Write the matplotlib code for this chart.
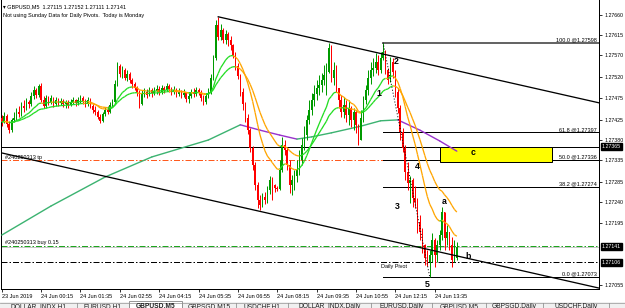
import numpy as np
import pandas as pd
import matplotlib
matplotlib.use("Agg")
import matplotlib.pyplot as plt
from matplotlib.collections import LineCollection
from matplotlib.patches import Rectangle
from matplotlib.transforms import blended_transform_factory

plt.rcParams['font.family'] = ['Liberation Sans', 'DejaVu Sans']

# ---------------- data ----------------
open_first = 1.27429
close = [
1.27420,1.27434,1.27416,1.27402,1.27425,1.27429,1.27443,1.27438,1.27456,1.27452,
1.27465,1.27461,1.27479,1.27492,1.27481,1.27501,1.27470,1.27456,1.27474,1.27465,
1.27474,1.27461,1.27470,1.27463,1.27467,1.27461,1.27465,1.27458,1.27465,1.27470,
1.27463,1.27470,1.27474,1.27467,1.27461,1.27470,1.27456,1.27447,1.27443,1.27432,
1.27423,1.27438,1.27447,1.27443,1.27458,1.27465,1.27505,1.27546,1.27528,1.27537,
1.27519,1.27528,1.27514,1.27505,1.27496,1.27488,1.27461,1.27483,1.27488,1.27481,
1.27492,1.27485,1.27490,1.27494,1.27488,1.27496,1.27492,1.27501,1.27494,1.27488,
1.27492,1.27483,1.27488,1.27481,1.27485,1.27472,1.27479,1.27488,1.27483,1.27492,
1.27488,1.27474,1.27465,1.27479,1.27488,1.27519,1.27564,1.27638,1.27611,1.27626,
1.27604,1.27617,1.27604,1.27593,1.27570,1.27546,1.27523,1.27488,1.27461,1.27429,
1.27402,1.27362,1.27324,1.27279,1.27246,1.27234,1.27252,1.27246,1.27268,1.27290,
1.27279,1.27272,1.27270,1.27313,1.27369,1.27358,1.27324,1.27279,1.27290,1.27299,
1.27313,1.27335,1.27369,1.27391,1.27425,1.27447,1.27470,1.27483,1.27496,1.27503,
1.27514,1.27526,1.27532,1.27586,1.27519,1.27537,1.27496,1.27470,1.27443,1.27458,
1.27436,1.27452,1.27425,1.27443,1.27414,1.27380,1.27429,1.27470,1.27492,1.27519,
1.27537,1.27541,1.27555,1.27537,1.27564,1.27577,1.27537,1.27514,1.27555,1.27532,
1.27488,1.27452,1.27398,1.27362,1.27308,1.27284,1.27290,1.27250,1.27241,1.27196,
1.27174,1.27145,1.27116,1.27107,1.27122,1.27156,1.27122,1.27145,1.27167,1.27219,
1.27160,1.27174,1.27145,1.27111,1.27115,1.27141]
high = [
1.27436,1.27443,1.27438,1.27423,1.27429,1.27443,1.27452,1.27456,1.27465,1.27470,
1.27474,1.27470,1.27488,1.27501,1.27496,1.27505,1.27508,1.27479,1.27481,1.27479,
1.27481,1.27476,1.27476,1.27474,1.27474,1.27472,1.27470,1.27470,1.27472,1.27476,
1.27472,1.27476,1.27481,1.27479,1.27472,1.27476,1.27474,1.27461,1.27456,1.27447,
1.27438,1.27443,1.27454,1.27456,1.27465,1.27472,1.27514,1.27555,1.27550,1.27546,
1.27541,1.27537,1.27532,1.27519,1.27510,1.27501,1.27492,1.27492,1.27496,1.27494,
1.27499,1.27496,1.27499,1.27503,1.27501,1.27503,1.27501,1.27508,1.27505,1.27499,
1.27501,1.27496,1.27496,1.27492,1.27494,1.27488,1.27485,1.27494,1.27496,1.27499,
1.27496,1.27492,1.27481,1.27485,1.27496,1.27528,1.27570,1.27649,1.27656,1.27640,
1.27631,1.27626,1.27622,1.27613,1.27595,1.27577,1.27552,1.27528,1.27496,1.27465,
1.27438,1.27407,1.27367,1.27331,1.27286,1.27257,1.27261,1.27264,1.27277,1.27299,
1.27297,1.27281,1.27277,1.27335,1.27387,1.27380,1.27364,1.27335,1.27302,1.27313,
1.27335,1.27358,1.27384,1.27411,1.27436,1.27470,1.27485,1.27503,1.27514,1.27526,
1.27530,1.27548,1.27552,1.27597,1.27593,1.27555,1.27548,1.27496,1.27481,1.27476,
1.27470,1.27470,1.27456,1.27452,1.27447,1.27416,1.27447,1.27479,1.27503,1.27537,
1.27555,1.27564,1.27575,1.27570,1.27577,1.27597,1.27582,1.27541,1.27566,1.27564,
1.27537,1.27496,1.27458,1.27407,1.27369,1.27331,1.27299,1.27295,1.27277,1.27250,
1.27212,1.27183,1.27147,1.27134,1.27134,1.27172,1.27160,1.27156,1.27178,1.27230,
1.27212,1.27190,1.27167,1.27163,1.27156,1.27152]
low = [
1.27411,1.27418,1.27409,1.27396,1.27398,1.27420,1.27425,1.27432,1.27434,1.27443,
1.27447,1.27452,1.27456,1.27472,1.27474,1.27476,1.27465,1.27452,1.27452,1.27458,
1.27461,1.27454,1.27456,1.27456,1.27458,1.27454,1.27452,1.27452,1.27456,1.27461,
1.27456,1.27458,1.27463,1.27461,1.27454,1.27456,1.27452,1.27440,1.27436,1.27427,
1.27418,1.27420,1.27434,1.27438,1.27440,1.27454,1.27461,1.27501,1.27521,1.27519,
1.27514,1.27512,1.27508,1.27496,1.27492,1.27479,1.27452,1.27458,1.27476,1.27474,
1.27479,1.27476,1.27481,1.27483,1.27481,1.27483,1.27485,1.27490,1.27488,1.27481,
1.27483,1.27476,1.27479,1.27474,1.27476,1.27465,1.27463,1.27474,1.27476,1.27479,
1.27481,1.27467,1.27458,1.27461,1.27474,1.27483,1.27514,1.27559,1.27604,1.27604,
1.27597,1.27595,1.27591,1.27582,1.27564,1.27537,1.27517,1.27479,1.27447,1.27420,
1.27393,1.27353,1.27313,1.27268,1.27228,1.27223,1.27230,1.27237,1.27239,1.27259,
1.27246,1.27264,1.27266,1.27268,1.27308,1.27346,1.27313,1.27261,1.27257,1.27268,
1.27286,1.27302,1.27324,1.27358,1.27380,1.27416,1.27436,1.27456,1.27470,1.27481,
1.27488,1.27503,1.27481,1.27530,1.27510,1.27503,1.27488,1.27452,1.27432,1.27429,
1.27420,1.27414,1.27409,1.27402,1.27396,1.27369,1.27380,1.27420,1.27461,1.27481,
1.27505,1.27523,1.27530,1.27526,1.27530,1.27559,1.27528,1.27505,1.27510,1.27519,
1.27476,1.27440,1.27380,1.27353,1.27290,1.27268,1.27239,1.27230,1.27228,1.27172,
1.27156,1.27127,1.27100,1.27098,1.27073,1.27107,1.27096,1.27107,1.27134,1.27156,
1.27134,1.27145,1.27134,1.27096,1.27107,1.27111]

# long moving average (read at sample bars)
lma_bar = [0, 20, 42, 61, 84, 97, 105, 113, 120, 126, 134, 146, 154, 161, 170, 178, 185]
lma_val = [1.27167, 1.27232, 1.27297, 1.27342, 1.27380, 1.27414, 1.27402, 1.27391, 1.27382,
           1.27387, 1.27396, 1.27411, 1.27423, 1.27425, 1.27402, 1.27378, 1.27355]

ema_spans = [14, 26]

time_tick_bars = [0, 16, 32, 48, 64, 80, 96, 112, 128, 144, 160, 176]
time_tick_labels = ["23 Jun 2019", "24 Jun 00:15", "24 Jun 01:35", "24 Jun 02:55",
                    "24 Jun 04:15", "24 Jun 05:35", "24 Jun 06:55", "24 Jun 08:15",
                    "24 Jun 09:35", "24 Jun 10:55", "24 Jun 12:15", "24 Jun 13:35"]
price_ticks = [1.27660, 1.27615, 1.27570, 1.27520, 1.27475, 1.27425, 1.27380, 1.27335,
               1.27285, 1.27240, 1.27195, 1.27055]

hline_level = 1.27365
tp_level = 1.27335
buy_level = 1.27143
bid_level = 1.27141
pivot_level = 1.27106

fib_pct = ["100.0", "61.8", "50.0", "38.2", "0.0"]
fib_price = [1.27598, 1.27397, 1.27336, 1.27274, 1.27073]
fib_start_bar = 155
fib_end_bar = 174

upper_tl_bar = [88, 243]
upper_tl_price = [1.27656, 1.27463]
lower_tl_bar = [0, 243]
lower_tl_price = [1.27351, 1.27048]

box_bar = [178, 223.5]
box_price = [1.27331, 1.27364]

wave_labels = ["1", "2", "3", "4", "5", "a", "b", "c"]
wave_bar = [153.3, 160.2, 161.0, 169.0, 172.8, 179.7, 189.4, 191.5]
wave_price = [1.27485, 1.27555, 1.27232, 1.27320, 1.27057, 1.27243, 1.27118, 1.27351]

tab_labels = ["DOLLAR_INDX,H1", "EURUSD,H1", "GBPUSD,M5", "GBPSGD,M15", "USDCHF,H1",
              "DOLLAR_INDX,Daily", "EURUSD,Daily", "GBPUSD,M5", "GBPSGD,Daily", "USDCHF,Daily"]

# ---------------- figure ----------------
fig = plt.figure(figsize=(6.25, 3.08), dpi=100)
ax = fig.add_axes([1/625, 19/308, 598/625, 289/308])
ax.set_xlim(-0.3, 242.8)
ax.set_ylim(1.270462, 1.276936)

PX = 0.72  # points per pixel

c = np.array(close)
o = np.concatenate([[open_first], c[:-1]])
hi = np.maximum(np.array(high), np.maximum(o, c))
lo = np.minimum(np.array(low), np.minimum(o, c))
xb = np.arange(len(c))
up = c >= o
bull_col, bear_col = '#009a00', '#ff0000'
cols = np.where(up, bull_col, bear_col)

# horizontal objects (background)
dashdot = (0, (6, 2, 1.5, 2))
ax.axhline(hline_level, color='black', lw=1.0*PX, zorder=1)
ax.axhline(tp_level, color='#ff5a1e', lw=1.0*PX, ls=dashdot, zorder=1)
ax.axhline(bid_level, color='#c8c8c8', lw=1.0*PX, zorder=1)
ax.axhline(buy_level, color='#1ea51e', lw=1.0*PX, ls=dashdot, zorder=1)
ax.axhline(pivot_level, color='black', lw=1.0*PX, ls=dashdot, zorder=1)

btr = blended_transform_factory(ax.transAxes, ax.transData)

# fibonacci
for pct, pr in zip(fib_pct, fib_price):
    lw = 1.6 if pct == "100.0" else 1.0
    colr = '#404040' if pct == "100.0" else 'black'
    ax.plot([fib_start_bar, 242.8], [pr, pr], color=colr, lw=lw*PX, zorder=2)
    ax.text(596/598, pr + 0.000012, f"{pct} @{pr:.5f}", transform=btr,
            ha='right', va='bottom', fontsize=4.0, color='black', zorder=6)
ax.plot([fib_start_bar, fib_end_bar], [fib_price[0], fib_price[-1]], color='black', lw=1.0*PX,
        ls=(0, (1, 2)), zorder=5)

# yellow box
ax.add_patch(Rectangle((box_bar[0], box_price[0]), box_bar[1]-box_bar[0], box_price[1]-box_price[0],
                       fc='#ffff00', ec='black', lw=1.0*PX, zorder=3))

# long MA
for j in range(len(lma_bar)-1):
    colr = '#3cb371' if lma_val[j+1] >= lma_val[j] else '#9932cc'
    ax.plot(lma_bar[j:j+2], lma_val[j:j+2], color=colr, lw=1.4*PX, zorder=3, solid_capstyle='round')

# candles
ax.vlines(xb, lo, hi, colors=cols, lw=1.0*PX, zorder=4)
body_h = np.maximum(np.abs(c-o), 0.000012)
ax.bar(xb, body_h, bottom=np.minimum(o, c), width=0.62, color=cols, linewidth=0, zorder=4)

# moving averages coloured by slope
for span in ema_spans:
    ma = pd.Series(c).ewm(span=span, adjust=False).mean().values
    segs = [[(xb[j], ma[j]), (xb[j+1], ma[j+1])] for j in range(len(ma)-1)]
    scol = ['#22dd22' if ma[j+1] >= ma[j] else '#ffa500' for j in range(len(ma)-1)]
    ax.add_collection(LineCollection(segs, colors=scol, linewidths=1.3*PX, zorder=5))

# trend lines
ax.plot(upper_tl_bar, upper_tl_price, color='black', lw=1.3*PX, zorder=6)
ax.plot(lower_tl_bar, lower_tl_price, color='black', lw=1.3*PX, zorder=6)

# wave labels
for lab, xbw, pr in zip(wave_labels, wave_bar, wave_price):
    ax.text(xbw, pr, lab, fontsize=6.3, fontweight='bold', ha='center', va='center', color='black', zorder=7)

# order labels
ax.text(4/598, tp_level + 0.00001, "#240250313 tp", transform=btr, fontsize=4.0, ha='left', va='bottom', zorder=7)
ax.text(4/598, buy_level + 0.00001, "#240250313 buy 0.15", transform=btr, fontsize=4.0, ha='left', va='bottom', zorder=7)
ax.text(159.5, pivot_level - 0.00003, "Daily Pivot", fontsize=4.0, ha='center', va='top', zorder=7)

# axes styling
ax.spines['top'].set_visible(False)
for s in ['left', 'right', 'bottom']:
    ax.spines[s].set_linewidth(1.0*PX)
ax.yaxis.tick_right()
ax.set_yticks(price_ticks)
ax.set_yticklabels([f"{p:.5f}" for p in price_ticks])
ax.tick_params(axis='y', length=3*PX, width=0.8*PX, pad=1.5, labelsize=3.8)
ax.set_xticks(time_tick_bars)
ax.set_xticklabels(time_tick_labels)
ax.tick_params(axis='x', length=3*PX, width=0.8*PX, pad=1.2, labelsize=4.0)
for lab in ax.get_xticklabels():
    lab.set_ha('left')

# highlighted price boxes
for pr, txt in [(hline_level, "1.27365"), (bid_level, "1.27141"), (pivot_level, "1.27106")]:
    ax.text(1.0 + 3/598, pr, txt, transform=btr, fontsize=3.8, color='white', ha='left', va='center',
            bbox=dict(boxstyle='square,pad=0.2', fc='black', ec='black'), zorder=10, clip_on=False)

# overlay (pixel coordinates) for header and tab bar
ov = fig.add_axes([0, 0, 1, 1], zorder=20)
ov.set_xlim(0, 625)
ov.set_ylim(308, 0)
ov.axis('off')
ov.patch.set_alpha(0)
ov.text(3, 7, "\u25BE GBPUSD,M5  1.27115 1.27152 1.27111 1.27141", fontsize=4.0, va='center', ha='left')
ov.text(3, 16, "Not using Sunday Data for Daily Pivots.  Today is Monday", fontsize=4.0, va='center', ha='left')

ov.add_patch(Rectangle((0, 302), 625, 8, fc='#f0f0f0', ec='none'))
ov.plot([0, 625], [302.5, 302.5], color='#a0a0a0', lw=0.8*PX)
seps = [0, 77, 129, 182, 236, 288, 371, 432, 486, 543, 609]
ov.add_patch(Rectangle((129, 301), 53, 9, fc='white', ec='#808080', lw=0.8*PX))
for sx in seps[1:]:
    ov.plot([sx, sx], [303, 308], color='#909090', lw=0.8*PX)
for k, lab in enumerate(tab_labels):
    cx = (seps[k] + seps[k+1]) / 2
    ov.text(cx, 306.5, lab, fontsize=4.8, ha='center', va='center', color='#202020',
            fontweight='bold' if k == 2 else 'normal')

fig.savefig("out.png", dpi=100)
